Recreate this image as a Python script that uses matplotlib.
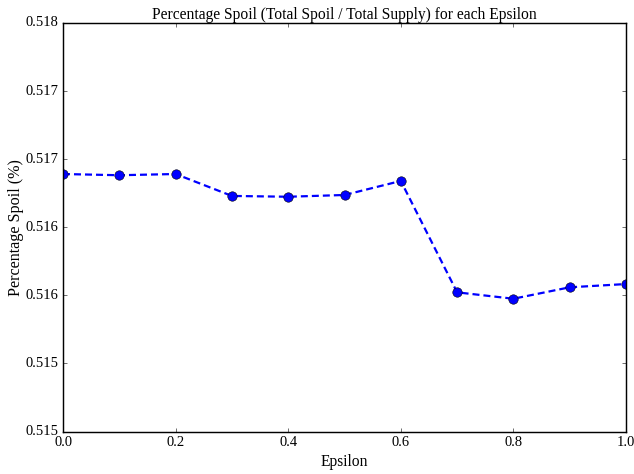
import numpy as np
import matplotlib
matplotlib.use('Agg')
import matplotlib.pyplot as plt

# values
epsilon = [0.0, 0.1, 0.2, 0.3, 0.4, 0.5, 0.6, 0.7, 0.8, 0.9, 1.0]
spoil = [0.516891, 0.516882, 0.516891, 0.516730, 0.516724, 0.516737,
         0.516840, 0.516022, 0.515975, 0.516059, 0.516083]

y_ticks = [0.5150, 0.5155, 0.5160, 0.5165, 0.5170, 0.5175, 0.5180]
y_labels = ['0.515', '0.515', '0.516', '0.516', '0.517', '0.517', '0.518']
x_ticks = [0.0, 0.2, 0.4, 0.6, 0.8, 1.0]

plt.style.use('classic')
plt.rcParams['font.family'] = ['Liberation Serif', 'DejaVu Serif']
plt.rcParams['axes.linewidth'] = 1.3

fig = plt.figure(figsize=(634 / 80, 474 / 80), dpi=80)
ax = fig.add_axes([63 / 634, 1 - 431.5 / 474, (626 - 63) / 634, (431.5 - 23) / 474])

ax.plot(epsilon, spoil, 'o--', color='blue', linewidth=2, markersize=8.5,
        markerfacecolor='blue', markeredgecolor='black', dashes=(6.3, 3.6))

ax.set_xlim(0.0, 1.0)
ax.set_ylim(0.515, 0.518)
ax.set_xticks(x_ticks)
ax.set_yticks(y_ticks)
ax.set_yticklabels(y_labels)
ax.tick_params(labelsize=13)

ax.set_title('Percentage Spoil (Total Spoil / Total Supply) for each Epsilon', fontsize=14, pad=4)
ax.set_xlabel('Epsilon', fontsize=14)
ax.set_ylabel('Percentage Spoil (%)', fontsize=14.5, labelpad=1)

fig.savefig('out.png', dpi=80)
